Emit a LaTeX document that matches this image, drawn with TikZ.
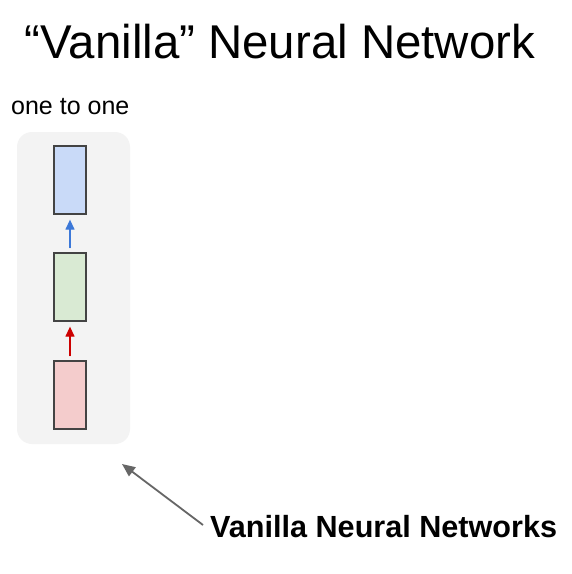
\documentclass[tikz,border=0pt]{standalone}
\usepackage{fontspec}
\setmainfont{Liberation Sans}
\usetikzlibrary{arrows.meta}
\definecolor{panelgray}{HTML}{F3F3F3}
\definecolor{cellblue}{HTML}{C9DAF8}
\definecolor{cellgreen}{HTML}{D9EAD3}
\definecolor{cellred}{HTML}{F4CCCC}
\definecolor{cellborder}{HTML}{434343}
\definecolor{arrblue}{HTML}{3C78D8}
\definecolor{arrred}{HTML}{CC0000}
\definecolor{arrgray}{HTML}{666666}
\tikzset{
  cell/.style={draw=cellborder, line width=1.3pt, minimum width=32pt, minimum height=68pt, inner sep=0pt},
  flow/.style={line width=1.3pt, -{Triangle[length=10pt,width=9pt]}},
}
\begin{document}
\begin{tikzpicture}[x=1pt,y=-1pt]
\useasboundingbox (0,0) rectangle (572,574);
\fill[white] (0,0) rectangle (572,574);
\node[anchor=base, font=\fontsize{47.4}{54}\selectfont, inner sep=0pt] (title) at (280,58) {“Vanilla” Neural Network};
\node[anchor=base west, font=\fontsize{25}{29}\selectfont, inner sep=0pt] (lbl) at (11,114) {one to one};
\node[fill=panelgray, rounded corners=15pt, minimum width=113pt, minimum height=312pt, inner sep=0pt] (panel) at (73.5,288) {};
\node[cell, fill=cellblue] (out) at (70,180) {};
\node[cell, fill=cellgreen] (hid) at (70,287) {};
\node[cell, fill=cellred] (in) at (70,395) {};
\draw[flow, draw=arrblue, fill=arrblue] ([yshift=4pt]hid.north) -- ([yshift=-5pt]out.south);
\draw[flow, draw=arrred, fill=arrred] ([yshift=4pt]in.north) -- ([yshift=-5pt]hid.south);
\node[anchor=base west, font=\bfseries\fontsize{30.6}{35}\selectfont, inner sep=0pt] (vnn) at (210,537) {Vanilla Neural Networks};
\coordinate (tip) at (122,464);
\draw[line width=1.8pt, draw=arrgray, -{Triangle[length=13pt,width=11pt]}] (203,525) -- (tip);
\end{tikzpicture}
\end{document}
